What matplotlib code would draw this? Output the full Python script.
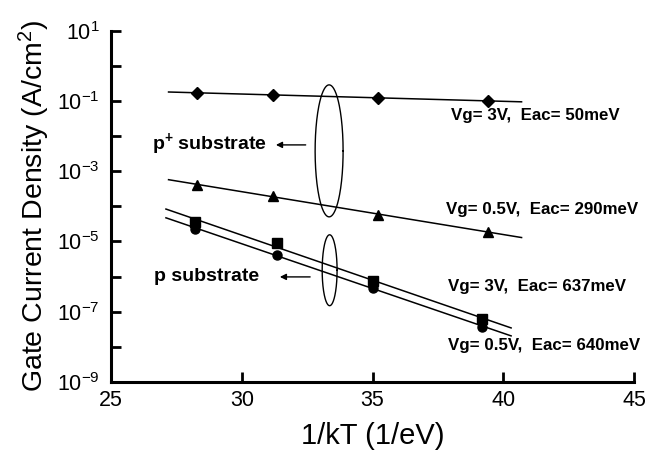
import numpy as np
import matplotlib.pyplot as plt

plt.rcParams['font.family'] = ['Liberation Sans', 'DejaVu Sans']
plt.rcParams['mathtext.default'] = 'regular'

# 1/kT values (1/eV)
x_pplus = [28.3, 31.2, 35.2, 39.4]
x_p = [28.2, 31.35, 35.0, 39.2]

# gate current density (A/cm^2)
j_3v_pplus = [0.171, 0.150, 0.123, 0.101]
j_05v_pplus = [4.1e-4, 2.0e-4, 5.7e-5, 1.9e-5]
j_3v_p = [3.6e-5, 9.1e-6, 7.6e-7, 6.2e-8]
j_05v_p = [2.3e-5, 4.2e-6, 4.8e-7, 3.7e-8]

labels = ["Vg= 3V,  Eac= 50meV", "Vg= 0.5V,  Eac= 290meV",
          "Vg= 3V,  Eac= 637meV", "Vg= 0.5V,  Eac= 640meV"]


def fit_line(x, y, x0, x1):
    """straight Arrhenius fit in log space"""
    k, b = np.polyfit(x, np.log10(y), 1)
    xs = np.array([x0, x1])
    return xs, 10 ** (k * xs + b)


def log_ellipse(ax, cx, cy, w, h):
    t = np.linspace(0, 2 * np.pi, 200)
    ax.plot(cx + w / 2 * np.cos(t), 10 ** (cy + h / 2 * np.sin(t)), color='black', lw=1.0)


fig = plt.figure(figsize=(6.57, 4.53), dpi=100)
ax = fig.add_axes([0.169, 0.157, 0.796, 0.775])

series = [
    (x_pplus, j_3v_pplus, 'D', 6, (27.2, 40.7)),
    (x_pplus, j_05v_pplus, '^', 7, (27.2, 40.7)),
    (x_p, j_3v_p, 's', 6.5, (27.1, 40.3)),
    (x_p, j_05v_p, 'o', 6.5, (27.1, 40.3)),
]
for x, y, m, ms, (x0, x1) in series:
    xs, ys = fit_line(x, y, x0, x1)
    ax.plot(xs, ys, color='black', lw=1.1)
    ax.plot(x, y, linestyle='none', marker=m, ms=ms, color='black')

# curve labels
lab_kw = dict(fontsize=12.2, fontweight='bold', va='center')
ax.text(38.0, 10 ** -1.42, labels[0], **lab_kw)
ax.text(37.8, 10 ** -4.1, labels[1], **lab_kw)
ax.text(37.9, 10 ** -6.29, labels[2], **lab_kw)
ax.text(37.9, 10 ** -7.95, labels[3], **lab_kw)

# grouping ellipses
log_ellipse(ax, 33.34, -2.42, 1.07, 3.76)
log_ellipse(ax, 33.36, -5.82, 0.57, 2.02)

# substrate annotations
ax.annotate('', xy=(31.2, 10 ** -2.25), xytext=(32.55, 10 ** -2.25),
            arrowprops=dict(arrowstyle='-|>', color='black', lw=1.0, mutation_scale=9))
ax.text(26.55, 10 ** -2.22, r'p$^{+}$ substrate', fontsize=14, fontweight='bold', va='center')
ax.annotate('', xy=(31.35, 10 ** -6.01), xytext=(32.72, 10 ** -6.01),
            arrowprops=dict(arrowstyle='-|>', color='black', lw=1.0, mutation_scale=9))
ax.text(26.65, 10 ** -6.0, 'p substrate', fontsize=14, fontweight='bold', va='center')

ax.set_yscale('log')
ax.set_xlim(25, 45)
ax.set_ylim(1e-9, 1e1)
ax.set_xticks([25, 30, 35, 40, 45])
ax.set_yticks([10.0 ** e for e in range(-9, 2)])
ax.set_yticklabels(['$10^{%d}$' % e if e % 2 else '' for e in range(-9, 2)])
ax.minorticks_off()
ax.tick_params(direction='in', length=7, width=2, labelsize=15.5)
ax.tick_params(axis='y', pad=8)
ax.tick_params(axis='x', pad=6)

for side in ['top', 'right']:
    ax.spines[side].set_visible(False)
for side in ['left', 'bottom']:
    ax.spines[side].set_linewidth(2.2)

ax.set_xlabel('1/kT (1/eV)', fontsize=21, labelpad=8)
ax.set_ylabel('Gate Current Density (A/cm$^{2}$)', fontsize=20.5, labelpad=4)

fig.savefig('out.png', dpi=100)
